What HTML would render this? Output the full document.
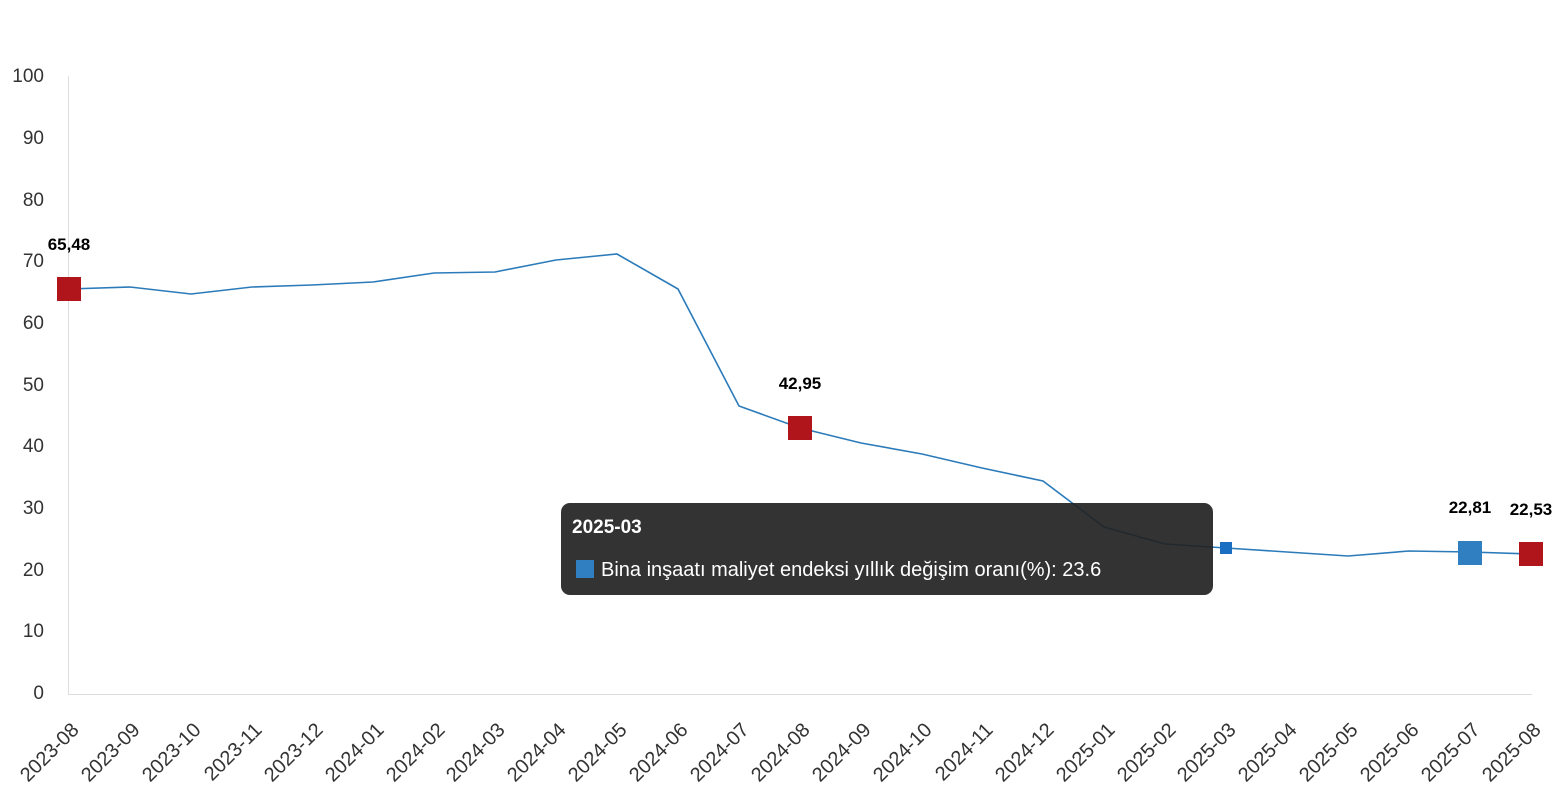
<!DOCTYPE html>
<html><head><meta charset="utf-8"><style>body{margin:0;background:#fff}svg{display:block}</style></head>
<body>
<svg width="1556" height="800" xmlns="http://www.w3.org/2000/svg" font-family="Liberation Sans, DejaVu Sans, sans-serif">
<g stroke="#ddd" stroke-width="1">
<line x1="68.5" y1="76" x2="68.5" y2="694"/>
<line x1="68" y1="694.5" x2="1532" y2="694.5"/>
</g>
<g font-size="19" fill="#333" text-anchor="end">
<text x="44" y="699">0</text><text x="44" y="637">10</text><text x="44" y="576">20</text><text x="44" y="514">30</text><text x="44" y="452">40</text><text x="44" y="391">50</text><text x="44" y="329">60</text><text x="44" y="267">70</text><text x="44" y="206">80</text><text x="44" y="144">90</text><text x="44" y="82">100</text>
</g>
<g font-size="20" fill="#333" text-anchor="end">
<text transform="translate(80,731) rotate(-45)">2023-08</text>
<text transform="translate(141,731) rotate(-45)">2023-09</text>
<text transform="translate(202,731) rotate(-45)">2023-10</text>
<text transform="translate(263,731) rotate(-45)">2023-11</text>
<text transform="translate(324,731) rotate(-45)">2023-12</text>
<text transform="translate(385,731) rotate(-45)">2024-01</text>
<text transform="translate(446,731) rotate(-45)">2024-02</text>
<text transform="translate(506,731) rotate(-45)">2024-03</text>
<text transform="translate(567,731) rotate(-45)">2024-04</text>
<text transform="translate(628,731) rotate(-45)">2024-05</text>
<text transform="translate(689,731) rotate(-45)">2024-06</text>
<text transform="translate(750,731) rotate(-45)">2024-07</text>
<text transform="translate(811,731) rotate(-45)">2024-08</text>
<text transform="translate(872,731) rotate(-45)">2024-09</text>
<text transform="translate(933,731) rotate(-45)">2024-10</text>
<text transform="translate(994,731) rotate(-45)">2024-11</text>
<text transform="translate(1055,731) rotate(-45)">2024-12</text>
<text transform="translate(1116,731) rotate(-45)">2025-01</text>
<text transform="translate(1177,731) rotate(-45)">2025-02</text>
<text transform="translate(1237,731) rotate(-45)">2025-03</text>
<text transform="translate(1298,731) rotate(-45)">2025-04</text>
<text transform="translate(1359,731) rotate(-45)">2025-05</text>
<text transform="translate(1420,731) rotate(-45)">2025-06</text>
<text transform="translate(1481,731) rotate(-45)">2025-07</text>
<text transform="translate(1542,731) rotate(-45)">2025-08</text>
</g>
<polyline fill="none" stroke="#2b7bba" stroke-width="1.6" points="69,289 130,287 191,294 252,287 312,285 373,282 434,273 495,272 556,260 617,254 678,289 739,406 800,428 861,443 922,454 982,468 1043,481 1104,527 1165,544 1226,548 1287,552 1348,556 1409,551 1470,552 1531,554"/>
<rect x="57" y="277" width="24" height="24" fill="#b0151b"/>
<rect x="788" y="416" width="24" height="24" fill="#b0151b"/>
<rect x="1519" y="542" width="24" height="24" fill="#b0151b"/>
<rect x="1458" y="541" width="24" height="24" fill="#2f7fc1"/>
<rect x="1220" y="542" width="12" height="12" fill="#1b6fc2"/>
<g font-size="17" font-weight="bold" fill="#000" text-anchor="middle">
<text x="69" y="250">65,48</text><text x="800" y="389">42,95</text><text x="1470" y="513">22,81</text><text x="1531" y="515">22,53</text>
</g>
<rect x="561" y="503" width="652" height="92" rx="9" fill="#222" fill-opacity="0.92"/>
<text x="572" y="533" font-size="19" font-weight="bold" fill="#fff">2025-03</text>
<rect x="576" y="560" width="18" height="18" fill="#2f7fc1"/>
<text x="601" y="576" font-size="20" fill="#fff">Bina inşaatı maliyet endeksi yıllık değişim oranı(%): 23.6</text>
</svg>
</body></html>
